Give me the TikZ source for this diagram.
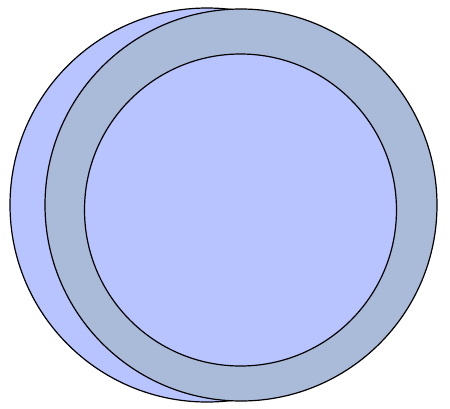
\documentclass[tikz,border=0pt]{standalone}
\definecolor{lightfill}{RGB}{184,196,255}
\definecolor{ringfill}{RGB}{170,186,217}
\begin{document}
\begin{tikzpicture}[x=1pt,y=-1pt,
  disc/.style={circle,draw=black,line width=1.2pt,inner sep=0pt}]
\useasboundingbox (0,0) rectangle (450,408);
\node[disc,fill=lightfill,minimum size=394pt] (back) at (207,205) {};
\node[disc,fill=ringfill,minimum size=392pt] (ring) at (241,205) {};
\node[disc,fill=lightfill,minimum size=312pt] (inner) at (240.5,210) {};
\end{tikzpicture}
\end{document}
